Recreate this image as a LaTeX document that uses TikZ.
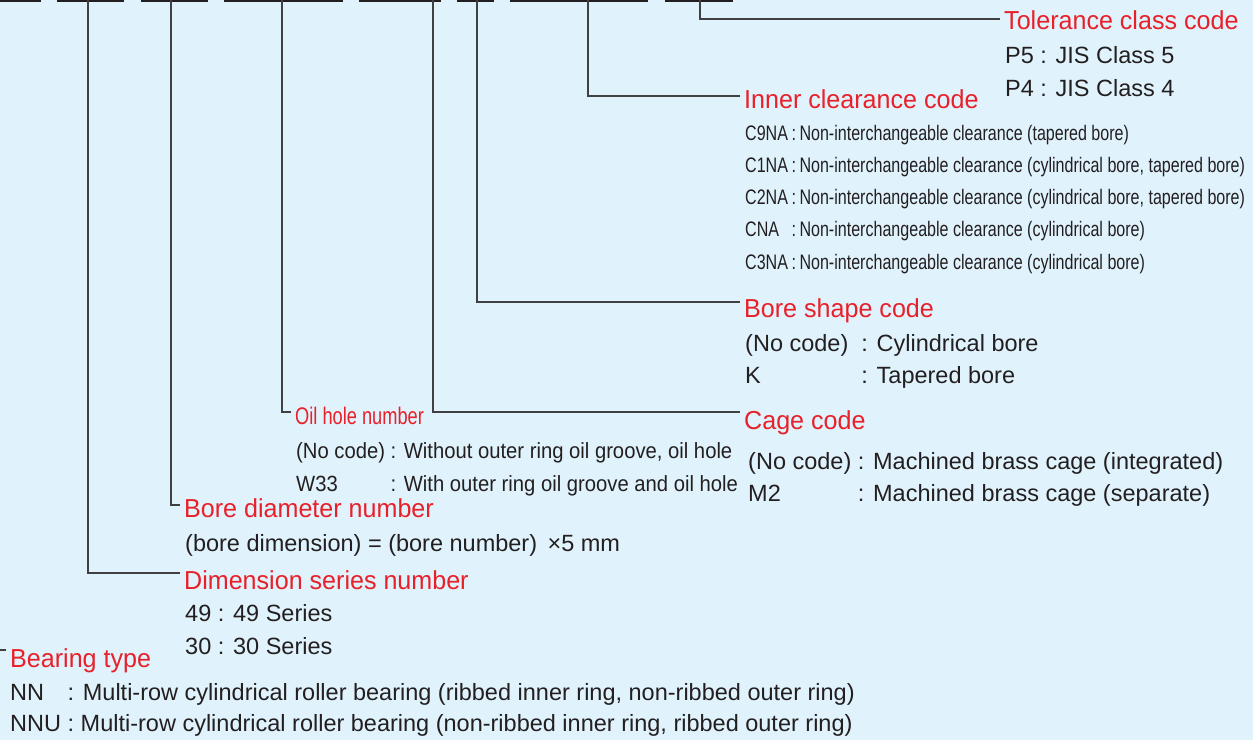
\documentclass[tikz,border=0pt]{standalone}
\usepackage{fontspec}
\setmainfont{Liberation Sans}
\newfontfamily\headfont[FakeStretch=0.965]{Liberation Sans}
\newfontfamily\clearfont[FakeStretch=0.765]{Liberation Sans}
\newfontfamily\oilfont[FakeStretch=0.92]{Liberation Sans}
\newfontfamily\oilheadfont[FakeStretch=0.76]{Liberation Sans}
\definecolor{codered}{RGB}{232,32,42}
\definecolor{codetext}{RGB}{35,31,32}
\definecolor{codeline}{RGB}{64,64,66}
\definecolor{codebg}{RGB}{224,243,252}

\begin{document}
\begin{tikzpicture}
		[
			x=1pt, y=-1pt,
			codehead/.style={anchor=west, inner xsep=4pt, inner ysep=0pt, text height=24pt, text depth=0pt, text=codered, font=\headfont\fontsize{26}{30}\selectfont},
			oilhead/.style={codehead, font=\oilheadfont\fontsize{24}{28}\selectfont},
			codeitem/.style={anchor=base west, inner sep=0pt, text=codetext, font=\fontsize{23.5}{28}\selectfont},
			clearitem/.style={codeitem, font=\clearfont\fontsize{21}{24}\selectfont},
			oilitem/.style={codeitem, font=\oilfont\fontsize{22}{26}\selectfont},
			codebar/.style={line width=4.4pt, codetext},
			leader/.style={line width=1.3pt, codeline},
		]

		\useasboundingbox (0,0) rectangle (1253,740);
		\fill[codebg] (0,0) rectangle (1253,740);

		% Code placeholders
		\foreach \a/\b in
		{
			0/41,
			57/124,
			141/208,
			224/343,
			359/441,
			457/494,
			510/648,
			665/733}
			\draw[codebar] (\a,0) -- (\b,0);

		% Leader tops
		\foreach \name/\x in
		{
			t2/88,
			t3/171,
			t4/282,
			t5/433,
			t6/477,
			t7/588,
			t8/700}
			\coordinate (\name) at (\x,0);
		\coordinate (t1) at (0,650);

		% Headings
		\foreach \style/\name/\x/\y/\text in
		{
			codehead/tcc/1000/17/Tolerance class code,
			codehead/icc/740/96/Inner clearance code,
			codehead/bsc/740/305/Bore shape code,
			codehead/cgc/740/417/Cage code,
			oilhead/ohn/291/412/Oil hole number,
			codehead/bdn/180/505/Bore diameter number,
			codehead/dsn/180/577/Dimension series number,
			codehead/bt/6/655/Bearing type
		}
			\node[\style] (\name) at (\x,\y) {\text};

		% Entries
		\foreach \style/\name/\x/\y/\text in
		{
			codeitem/p5/1005/63/{P5 : JIS Class 5},
			codeitem/p4/1005/96/{P4 : JIS Class 4},
			clearitem/c9na/745/140/{C9NA\,:\,Non-interchangeable clearance (tapered bore)},
			clearitem/c1na/745/172/{C1NA\,:\,Non-interchangeable clearance (cylindrical bore, tapered bore)},
			clearitem/c2na/745/204/{C2NA\,:\,Non-interchangeable clearance (cylindrical bore, tapered bore)},
			clearitem/cna/745/236/{\rlap{CNA}\phantom{C3NA}\,:\,Non-interchangeable clearance (cylindrical bore)},
			clearitem/c3na/745/269/{C3NA\,:\,Non-interchangeable clearance (cylindrical bore)},
			codeitem/bnone/745/351/{(No code)\ \ : Cylindrical bore},
			codeitem/bk/745/383/{\rlap{K}\phantom{(No code)}\ \ : Tapered bore},
			codeitem/cnone/748/469/{(No code) : Machined brass cage (integrated)},
			codeitem/cm2/748/501/{\rlap{M2}\phantom{(No code)} : Machined brass cage (separate)},
			oilitem/onone/296/458/{(No code) : Without outer ring oil groove, oil hole},
			oilitem/ow33/296/491/{\rlap{W33}\phantom{(No code)} : With outer ring oil groove and oil hole},
			codeitem/bore/185/551/{(bore dimension) = (bore number) \,×5 mm},
			codeitem/s49/185/621/{49 : 49 Series},
			codeitem/s30/185/654/{30 : 30 Series},
			codeitem/nn/10/700/{\rlap{NN}\phantom{NNU} : Multi-row cylindrical roller bearing (ribbed inner ring, non-ribbed outer ring)},
			codeitem/nnu/10/731/{NNU : Multi-row cylindrical roller bearing (non-ribbed inner ring, ribbed outer ring)}
		}
			\node[\style] (\name) at (\x,\y) {\text};

		% Leaders
		\foreach \u/\v/\d in
		{
			t8/tcc/-2,
			t7/icc/0,
			t6/bsc/3,
			t5/cgc/5,
			t4/ohn/0,
			t3/bdn/0,
			t2/dsn/4}
			\draw[leader] (\u) |- ([yshift=\d pt]\v.west);
		\draw[leader] (t1) -- ([yshift=5pt]bt.west);

		\end{tikzpicture}
\end{document}
